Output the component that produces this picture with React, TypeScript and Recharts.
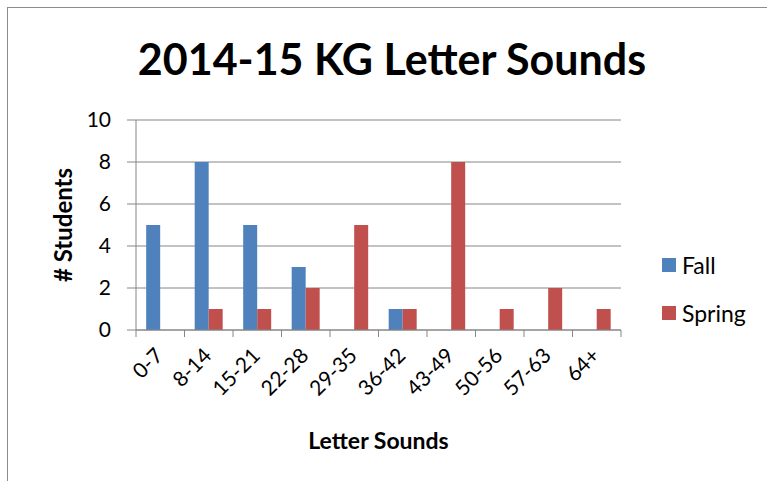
import { BarChart, Bar, XAxis, YAxis, CartesianGrid } from "recharts";

const CATEGORIES = ["0-7", "8-14", "15-21", "22-28", "29-35", "36-42", "43-49", "50-56", "57-63", "64+"];
const FALL = [5, 8, 5, 3, 0, 1, 0, 0, 0, 0];
const SPRING = [0, 1, 1, 2, 5, 1, 8, 1, 2, 1];
const Y_TICKS = [0, 2, 4, 6, 8, 10];
const SERIES = [
  { name: "Fall", color: "#4F81BD" },
  { name: "Spring", color: "#C0504D" },
];

const data = CATEGORIES.map((name, i) => ({ name, Fall: FALL[i], Spring: SPRING[i] }));

const FONT = "Lato, 'Open Sans', sans-serif";
const GRID = "#868686";
const CHART_W = 767;
const CHART_H = 481;
const MARGIN = { top: 120, right: 146, left: 0, bottom: 0 };
const Y_W = 136;
const BAND = (CHART_W - MARGIN.right - Y_W) / CATEGORIES.length;

function XTick(props: any) {
  const { x, y, payload, index } = props;
  const left = x - BAND / 2;
  const last = index === CATEGORIES.length - 1;
  return (
    <g>
      <line x1={left} y1={y} x2={left} y2={y + 7} stroke={GRID} />
      {last && <line x1={x + BAND / 2} y1={y} x2={x + BAND / 2} y2={y + 7} stroke={GRID} />}
      <text
        x={x + 4}
        y={y + 27}
        textAnchor="end"
        fontSize={21}
        fontFamily={FONT}
        fill="#000"
        transform={`rotate(-45, ${x + 4}, ${y + 27})`}
      >
        {payload.value}
      </text>
    </g>
  );
}

function LegendBox() {
  return (
    <div style={{ position: "absolute", left: 662, top: 241, fontFamily: FONT, fontSize: 23, color: "#000" }}>
      {SERIES.map((it) => (
        <div key={it.name} style={{ display: "flex", alignItems: "center", height: 48 }}>
          <span style={{ display: "inline-block", width: 14, height: 14, background: it.color, marginRight: 6 }} />
          {it.name}
        </div>
      ))}
    </div>
  );
}

export default function App() {
  return (
    <div style={{ position: "relative", width: CHART_W, height: CHART_H, background: "#fff", overflow: "hidden" }}>
      <style>{`body { margin: 0; }`}</style>
      <div style={{ position: "absolute", left: 7, top: 7, width: 760, height: 1, background: "#8c8c8c" }} />
      <div style={{ position: "absolute", left: 7, top: 7, width: 1, height: 474, background: "#8c8c8c" }} />
      <div
        style={{
          position: "absolute",
          left: 8,
          width: 768,
          top: 33,
          textAlign: "center",
          fontFamily: FONT,
          fontWeight: 700,
          fontSize: 43,
          color: "#000",
        }}
      >
        2014-15 KG Letter Sounds
      </div>
      <BarChart width={CHART_W} height={CHART_H} data={data} margin={MARGIN} barGap={0} barCategoryGap="21%">
        <CartesianGrid vertical={false} stroke={GRID} strokeWidth={1} />
        <XAxis
          dataKey="name"
          stroke={GRID}
          tickLine={false}
          tickSize={0}
          tickMargin={0}
          interval={0}
          height={151}
          tick={<XTick />}
          label={{
            value: "Letter Sounds",
            position: "insideBottom",
            offset: 32,
            fontFamily: FONT,
            fontWeight: 700,
            fontSize: 23,
            fill: "#000",
          }}
        />
        <YAxis
          width={Y_W}
          domain={[0, 10]}
          ticks={Y_TICKS}
          stroke={GRID}
          tickSize={9}
          tickMargin={16}
          tick={{ fontFamily: FONT, fontSize: 21, fill: "#000" }}
          label={{
            value: "# Students",
            angle: -90,
            position: "center",
            dx: -5,
            fontFamily: FONT,
            fontWeight: 700,
            fontSize: 24,
            fill: "#000",
          }}
        />
        <Bar dataKey="Fall" fill={SERIES[0].color} isAnimationActive={false} />
        <Bar dataKey="Spring" fill={SERIES[1].color} isAnimationActive={false} />
      </BarChart>
      <LegendBox />
    </div>
  );
}
